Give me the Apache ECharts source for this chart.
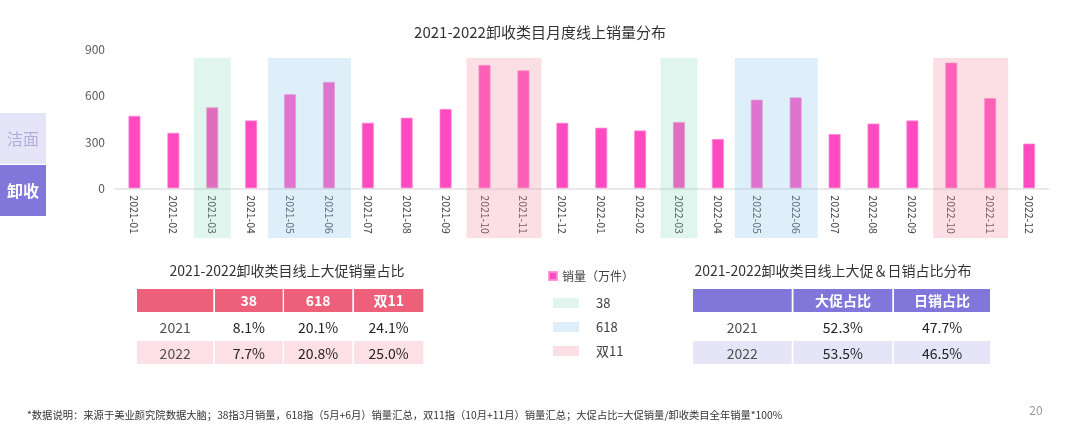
<!DOCTYPE html>
<html>
<head>
<meta charset="utf-8">
<script src="https://cdn.jsdelivr.net/npm/echarts@6/dist/echarts.min.js"></script>
<style>
html,body{margin:0;padding:0;background:#fff;}
#chart{width:1080px;height:440px;}
</style>
</head>
<body>
<div id="chart"></div>
<script>
// ---------- data ----------
const months = ['2021-01','2021-02','2021-03','2021-04','2021-05','2021-06','2021-07','2021-08','2021-09','2021-10','2021-11','2021-12',
                '2022-01','2022-02','2022-03','2022-04','2022-05','2022-06','2022-07','2022-08','2022-09','2022-10','2022-11','2022-12'];
const salesValues = [470, 360, 525, 440, 610, 690, 425, 458, 515, 800, 765, 425,
                     393, 375, 430, 320, 575, 590, 352, 420, 440, 815, 585, 290];
const yTicks = [0, 300, 600, 900];
const seriesName = '销量（万件）';
const promoNames = ['38', '618', '双11'];
const promo38Spans = [['2021-03','2021-03'], ['2022-03','2022-03']];
const promo618Spans = [['2021-05','2021-06'], ['2022-05','2022-06']];
const promo1111Spans = [['2021-10','2021-11'], ['2022-10','2022-11']];
const promoTableTitle = '2021-2022卸收类目线上大促销量占比';
const promoTableHeader = ['', '38', '618', '双11'];
const promoTableRows = [['2021','8.1%','20.1%','24.1%'], ['2022','7.7%','20.8%','25.0%']];
const mixTableTitle = '2021-2022卸收类目线上大促＆日销占比分布';
const mixTableHeader = ['', '大促占比', '日销占比'];
const mixTableRows = [['2021','52.3%','47.7%'], ['2022','53.5%','46.5%']];
const tabLabels = ['洁面', '卸收'];
const chartTitle = '2021-2022卸收类目月度线上销量分布';
const footnote = '*数据说明：来源于美业颜究院数据大脑；38指3月销量，618指（5月+6月）销量汇总，双11指（10月+11月）销量汇总；大促占比=大促销量/卸收类目全年销量*100%';
const pageNo = '20';

// ---------- styles ----------
const FONT = '"Noto Sans CJK SC", "Noto Sans", sans-serif';
const promoColors = ['rgba(132,216,190,0.26)', 'rgba(153,205,236,0.32)', 'rgba(245,150,166,0.30)'];
const promoPads = [-1, 2.6, -1.4];
const barColor = '#FF4BBF';

const chart = echarts.init(document.getElementById('chart'));

function spansToData(spans){ return spans.map(s => [months.indexOf(s[0]), months.indexOf(s[1])]); }
function promoSeries(name, spans, idx){
  return {
    name: name, type: 'custom', xAxisIndex: 1, yAxisIndex: 1, z: 5,
    itemStyle: { color: promoColors[idx] },
    data: spansToData(spans),
    renderItem: function(params, api){
      const s = api.coord([api.value(0), 1]);
      const e = api.coord([api.value(1), 0]);
      const band = api.size([1, 0])[0];
      const pad = promoPads[idx];
      return { type: 'rect',
        shape: { x: s[0] - band/2 - pad, y: s[1], width: e[0] - s[0] + band + 2*pad, height: e[1] - s[1] },
        style: api.style() };
    }
  };
}

// tables via graphic
function buildTable(cols, rowsY, header, rows, headColor, altColor){
  const els = [];
  cols.forEach((c, i) => {
    els.push({ type:'rect', shape:{x:c[0], y:rowsY[0][0], width:c[1]-c[0], height:rowsY[0][1]-rowsY[0][0]}, style:{fill:headColor} });
    if (header[i]) els.push({ type:'text', style:{ text: header[i], x:(c[0]+c[1])/2, y:(rowsY[0][0]+rowsY[0][1])/2, align:'center', verticalAlign:'middle', fill:'#fff', font:'bold 14px ' + FONT } });
  });
  rows.forEach((r, ri) => {
    const ry = rowsY[ri+1];
    cols.forEach((c, i) => {
      if (ri === 1) els.push({ type:'rect', shape:{x:c[0], y:ry[0], width:c[1]-c[0], height:ry[1]-ry[0]}, style:{fill:altColor} });
      els.push({ type:'text', style:{ text: r[i], x:(c[0]+c[1])/2, y:(ry[0]+ry[1])/2 + 1, align:'center', verticalAlign:'middle', fill: i === 0 ? '#505050' : '#222', font:'14px ' + FONT } });
    });
  });
  return els;
}

const graphics = [];
graphics.push({ type:'rect', shape:{x:0, y:113, width:46, height:51}, style:{fill:'#E6E4F7'} });
graphics.push({ type:'rect', shape:{x:0, y:165, width:46, height:51}, style:{fill:'#8177DB'} });
graphics.push({ type:'text', style:{ text: tabLabels[0], x:23, y:139, align:'center', verticalAlign:'middle', fill:'#B2ACDA', font:'16px ' + FONT } });
graphics.push({ type:'text', style:{ text: tabLabels[1], x:23, y:191, align:'center', verticalAlign:'middle', fill:'#fff', font:'bold 16px ' + FONT } });
graphics.push({ type:'text', style:{ text: promoTableTitle, x:287, y:271, align:'center', verticalAlign:'middle', fill:'#333', font:'14px ' + FONT } });
graphics.push({ type:'text', style:{ text: mixTableTitle, x:833, y:271, align:'center', verticalAlign:'middle', fill:'#333', font:'14px ' + FONT } });
const rowsY = [[289,312],[313,340],[341,364]];
graphics.push(...buildTable([[137,213.3],[215,282.7],[284,352.3],[354,423.3]], rowsY, promoTableHeader, promoTableRows, '#EE5F7A', '#FCE0E5'));
graphics.push(...buildTable([[693,791.7],[793.5,892.3],[894,990]], rowsY, mixTableHeader, mixTableRows, '#8177DB', '#E6E4F7'));
graphics.push({ type:'text', style:{ text: footnote, x:27, y:415, align:'left', verticalAlign:'middle', fill:'#333', font:'10.3px ' + FONT } });
graphics.push({ type:'text', style:{ text: pageNo, x:1036, y:410, align:'center', verticalAlign:'middle', fill:'#9a9a9a', font:'12px ' + FONT } });

const option = {
  animation: false,
  backgroundColor: '#fff',
  textStyle: { fontFamily: FONT },
  title: { text: chartTitle, left: 'center', top: 20, textStyle: { fontSize: 15, fontWeight: 'normal', color: '#333', fontFamily: FONT } },
  legend: [
    { data: [seriesName], left: 543, top: 265, icon: 'rect', itemWidth: 8, itemHeight: 8, itemGap: 6,
      textStyle: { fontSize: 12, color: '#404040', fontFamily: FONT } },
    { data: promoNames, orient: 'vertical', left: 548, top: 291, icon: 'rect', itemWidth: 26, itemHeight: 10, itemGap: 10,
      textStyle: { fontSize: 13, lineHeight: 14, color: '#404040', fontFamily: FONT, padding: [0,0,0,12] } }
  ],
  grid: [
    { left: 115, right: 31.5, top: 49.5, bottom: 251.7 },
    { left: 115, right: 31.5, top: 58, bottom: 202 }
  ],
  xAxis: [
    { type: 'category', data: months, gridIndex: 0,
      axisLine: { lineStyle: { color: '#E2E2E2', width: 1.5 } }, axisTick: { show: false },
      axisLabel: { rotate: -90, margin: 7, fontSize: 10.5, color: '#404040', fontFamily: FONT } },
    { type: 'category', data: months, gridIndex: 1, show: false }
  ],
  yAxis: [
    { type: 'value', gridIndex: 0, min: yTicks[0], max: yTicks[yTicks.length-1], interval: yTicks[1]-yTicks[0],
      splitLine: { show: false }, axisLine: { show: false }, axisTick: { show: false },
      axisLabel: { margin: 10, fontSize: 12, color: '#595959', fontFamily: FONT } },
    { type: 'value', gridIndex: 1, min: 0, max: 1, show: false }
  ],
  series: [
    { name: seriesName, type: 'bar', data: salesValues, barWidth: 12, z: 2,
      itemStyle: { color: barColor, borderColor: 'rgba(255,140,215,0.9)', borderWidth: 0.8 } },
    promoSeries(promoNames[0], promo38Spans, 0),
    promoSeries(promoNames[1], promo618Spans, 1),
    promoSeries(promoNames[2], promo1111Spans, 2)
  ],
  graphic: graphics
};
chart.setOption(option);
</script>
</body>
</html>
